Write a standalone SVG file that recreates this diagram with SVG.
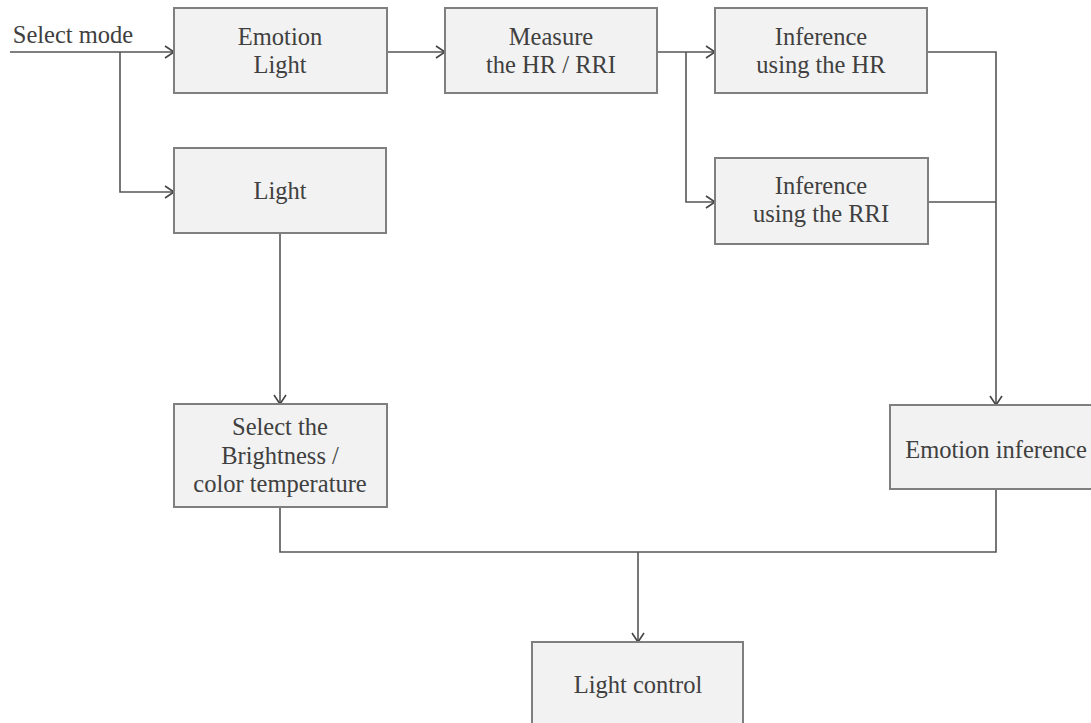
<svg xmlns="http://www.w3.org/2000/svg" width="1091" height="723" viewBox="0 0 1091 723">
<defs>
<marker id="arr" markerUnits="userSpaceOnUse" markerWidth="12" markerHeight="14" refX="10" refY="7" orient="auto">
<path d="M1,1 L10,7 L1,13" fill="none" stroke="#444" stroke-width="1.6"/>
</marker>
<style>
.box{fill:#f2f2f2;stroke:#7f7f7f;stroke-width:2}
.t{font-family:"Liberation Serif","Times New Roman",serif;font-size:24.5px;fill:#404040;text-anchor:middle}
.c{fill:none;stroke:#555;stroke-width:1.6}
</style>
</defs>
<rect width="1091" height="723" fill="#ffffff"/>
<g id="connectors">
<text class="t" x="73" y="43">Select mode</text>
<path class="c" d="M10,52 H174" marker-end="url(#arr)"/>
<path class="c" d="M120,52 V192 H174" marker-end="url(#arr)"/>
<path class="c" d="M387,52 H445" marker-end="url(#arr)"/>
<path class="c" d="M657,52 H715" marker-end="url(#arr)"/>
<path class="c" d="M686,52 V202 H715" marker-end="url(#arr)"/>
<path class="c" d="M927,52 H996 V405" marker-end="url(#arr)"/>
<path class="c" d="M928,202 H996"/>
<path class="c" d="M280,233 V404" marker-end="url(#arr)"/>
<path class="c" d="M280,507 V552 H996 V489"/>
<path class="c" d="M638,552 V642" marker-end="url(#arr)"/>
</g>
<g id="emotion-light">
<rect class="box" x="174" y="8" width="213" height="85"/>
<text class="t" x="280" y="45">Emotion</text>
<text class="t" x="280" y="73">Light</text>
</g>
<g id="measure">
<rect class="box" x="445" y="8" width="212" height="85"/>
<text class="t" x="551" y="45">Measure</text>
<text class="t" x="551" y="73">the HR / RRI</text>
</g>
<g id="inference-hr">
<rect class="box" x="715" y="8" width="212" height="85"/>
<text class="t" x="821" y="45">Inference</text>
<text class="t" x="821" y="73">using the HR</text>
</g>
<g id="inference-rri">
<rect class="box" x="715" y="158" width="213" height="86"/>
<text class="t" x="821" y="194">Inference</text>
<text class="t" x="821" y="222">using the RRI</text>
</g>
<g id="light">
<rect class="box" x="174" y="148" width="212" height="85"/>
<text class="t" x="280" y="199">Light</text>
</g>
<g id="select-brightness">
<rect class="box" x="174" y="404" width="213" height="103"/>
<text class="t" x="280" y="435">Select the</text>
<text class="t" x="280" y="464">Brightness /</text>
<text class="t" x="280" y="492">color temperature</text>
</g>
<g id="emotion-inference">
<rect class="box" x="890" y="405" width="220" height="84"/>
<text class="t" x="996" y="458">Emotion inference</text>
</g>
<g id="light-control">
<rect class="box" x="532" y="642" width="211" height="100"/>
<text class="t" x="638" y="693">Light control</text>
</g>
</svg>
